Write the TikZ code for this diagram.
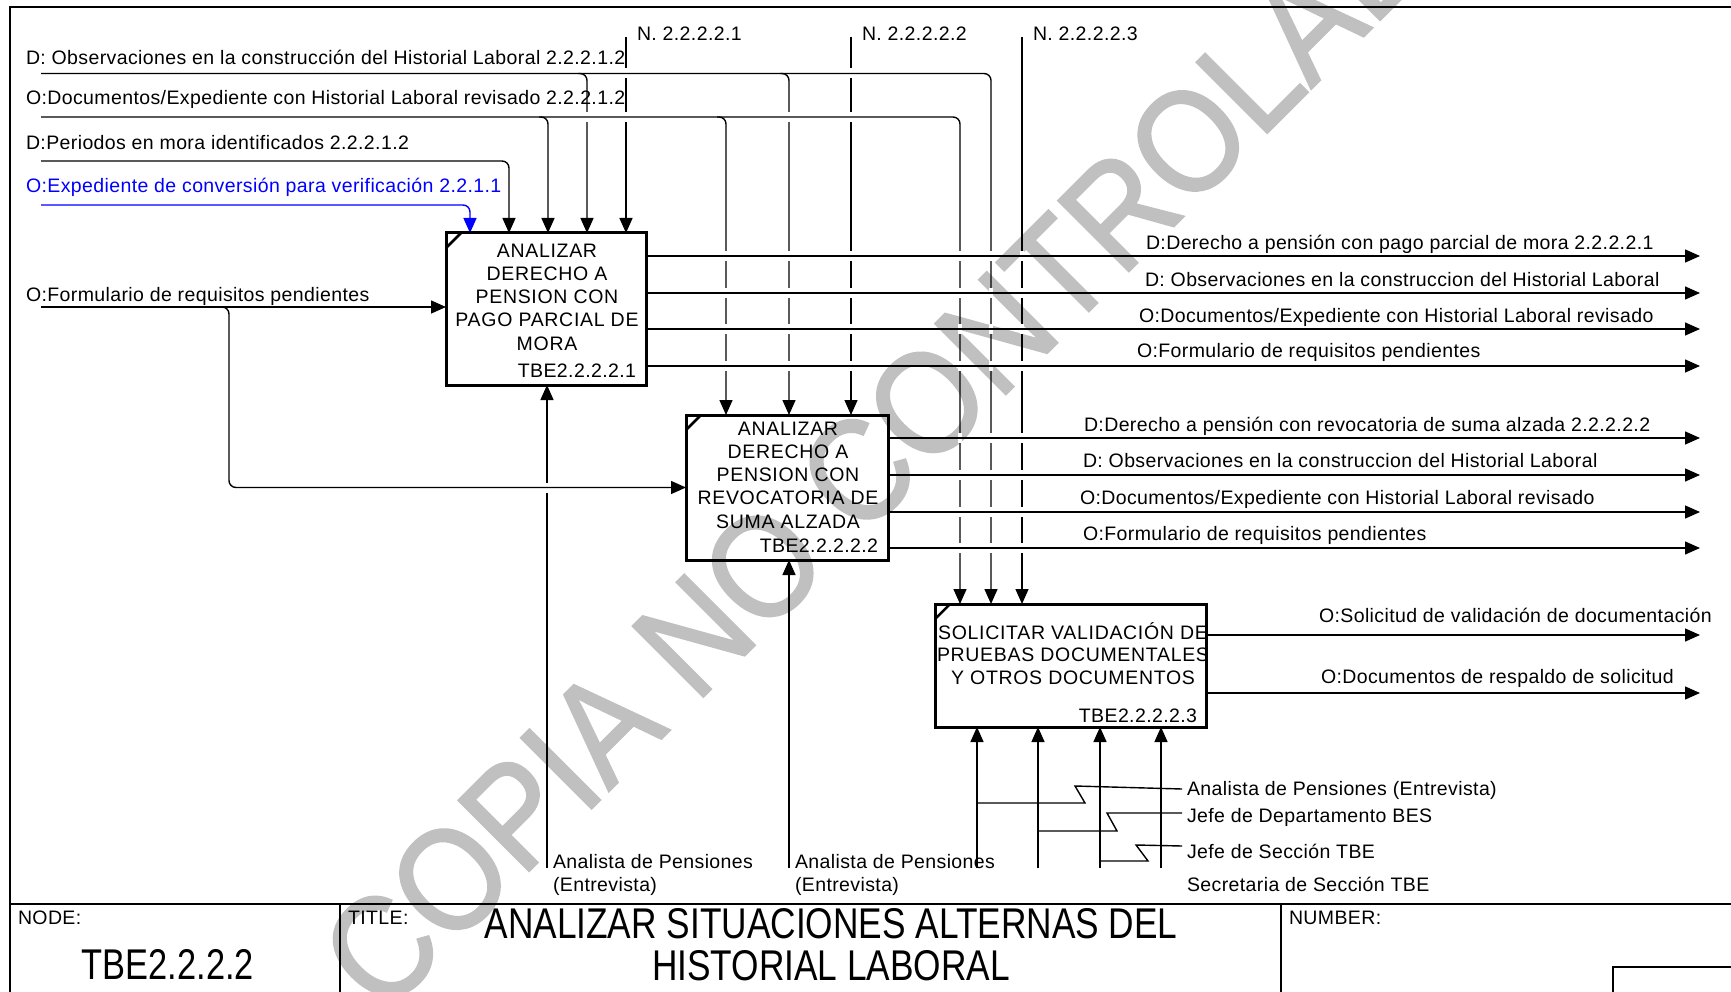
\documentclass[tikz,border=0pt]{standalone}
\usepackage{fontspec}
\usepackage{graphicx}
\setmainfont[LetterSpace=2]{Liberation Sans}
\newfontfamily\plainfont{Liberation Sans}
\newfontfamily\wmfont[FakeBold=1.5]{Liberation Sans}
\usetikzlibrary{arrows.meta}
\definecolor{wmgray}{RGB}{192,192,192}
\begin{document}
\begin{tikzpicture}[x=1pt,y=-1pt,
  every node/.style={inner sep=0pt, outer sep=0pt, font=\fontsize{19.5}{23.3}\selectfont},
  ln/.style={line width=1.4pt},
  arr/.style={ln, -{Triangle[length=15pt,width=13pt]}},
  gap/.style={draw=white, line width=3.6pt},
  rc/.style={rounded corners=7pt},
  frame/.style={line width=2pt},
  boxline/.style={line width=3pt},
  tick/.style={line width=2.5pt},
  lbl/.style={anchor=base west},
  boxtext/.style={align=center, anchor=north, font=\fontsize{19.5}{23.3}\selectfont\addfontfeatures{LetterSpace=3.5}},
  bigtxt/.style={anchor=base, font=\plainfont\fontsize{43}{43}\selectfont},
  wmark/.style={anchor=base west, rotate=45, font=\wmfont\fontsize{145}{145}\selectfont, text=wmgray}
]
\fill[white] (0,0) rectangle (1731,992);
\useasboundingbox (0,0) rectangle (1731,992);
\clip (0,0) rectangle (1731,992);

% ---------- watermark (behind everything) ----------
\node[wmark] (wm) at (383,1017) {\scalebox{0.9}[1]{COPIA NO CONTROLADA}};

% ---------- frame and title block ----------
\draw[frame] (10,1000) -- (10,7) -- (1745,7);
\draw[frame] (10,904) -- (1745,904);
\draw[frame] (340,904) -- (340,1000);
\draw[frame] (1281,904) -- (1281,1000);
\draw[line width=1.5pt] (1745,967) -- (1613,967) -- (1613,1000);

% ---------- boxes (geometry only, drawn later) ----------
\node[minimum width=200pt, minimum height=152pt, anchor=north west] (b1) at (446,233) {};
\node[minimum width=202pt, minimum height=145pt, anchor=north west] (b2) at (686,415) {};
\node[minimum width=271pt, minimum height=123pt, anchor=north west] (b3) at (935,604) {};

% ---------- free ends ----------
\coordinate (nA) at (626,37);
\coordinate (nB) at (851,37);
\coordinate (nC) at (1022,37);
\coordinate (iObs) at (41,73.5);
\coordinate (iDoc) at (41,117);
\coordinate (iPer) at (41,161);
\coordinate (iExp) at (41,205);
\coordinate (iFor) at (41,307);
\coordinate (m1) at (547,868);
\coordinate (m2) at (789,868);
\coordinate (m3a) at (977,868);
\coordinate (m3b) at (1038,868);
\coordinate (m3c) at (1100,868);
\coordinate (m3d) at (1161,868);
\coordinate (o1a) at (1700,256);
\coordinate (o1b) at (1700,293);
\coordinate (o1c) at (1700,329);
\coordinate (o1d) at (1700,366);
\coordinate (o2a) at (1700,438);
\coordinate (o2b) at (1700,475);
\coordinate (o2c) at (1700,512);
\coordinate (o2d) at (1700,548);
\coordinate (o3a) at (1700,635);
\coordinate (o3b) at (1700,693);

% ---------- controls from the top (N.) ----------
\draw[arr] (nA) -- (nA |- b1.north);
\draw[arr] (nB) -- (nB |- b2.north);
\draw[arr] (nC) -- (nC |- b3.north);

% ---------- mechanisms ----------
\draw[arr] (m1) -- (m1 |- b1.south);
\draw[arr] (m2) -- (m2 |- b2.south);
\draw[arr] (m3a) -- (m3a |- b3.south);
\draw[arr] (m3b) -- (m3b |- b3.south);
\draw[arr] (m3c) -- (m3c |- b3.south);
\draw[arr] (m3d) -- (m3d |- b3.south);

% line jumps (gaps in the vertical lines)
\foreach \x/\y in {626/73.5, 851/73.5, 626/117, 851/117, 547/488}
  \draw[gap] (\x,\y-5) -- (\x,\y+5);

% ---------- D: Observaciones ----------
\draw[arr, rc] (iObs) -| (991,0 |- b3.north);
\draw[arr, rc] (578,73.5) -| (587,0 |- b1.north);
\draw[arr, rc] (780,73.5) -| (789,0 |- b2.north);
\foreach \x in {587, 789}
  \draw[gap] (\x,112) -- (\x,122);

% ---------- O:Documentos ----------
\draw[arr, rc] (iDoc) -| (960,0 |- b3.north);
\draw[arr, rc] (539,117) -| (548,0 |- b1.north);
\draw[arr, rc] (717,117) -| (726,0 |- b2.north);

% ---------- D:Periodos / O:Expediente ----------
\draw[arr, rc] (iPer) -| (509,0 |- b1.north);
\draw[arr, blue, rc] (iExp) -| (470,0 |- b1.north);

% ---------- O:Formulario ----------
\draw[arr, rc] (220,307) -- (229,307) |- (b2.west);
\draw[arr] (iFor) -- (iFor -| b1.west);

% line jumps under the outputs
\foreach \x in {726, 789, 851, 960, 991, 1022}
  \foreach \y in {256, 293, 329, 366}
    \draw[gap] (\x,\y-5) -- (\x,\y+5);
\foreach \x in {960, 991, 1022}
  \foreach \y in {438, 475, 512, 548}
    \draw[gap] (\x,\y-5) -- (\x,\y+5);

% ---------- outputs ----------
\draw[arr] (o1a -| b1.east) -- (o1a);
\draw[arr] (o1b -| b1.east) -- (o1b);
\draw[arr] (o1c -| b1.east) -- (o1c);
\draw[arr] (o1d -| b1.east) -- (o1d);
\draw[arr] (o2a -| b2.east) -- (o2a);
\draw[arr] (o2b -| b2.east) -- (o2b);
\draw[arr] (o2c -| b2.east) -- (o2c);
\draw[arr] (o2d -| b2.east) -- (o2d);
\draw[arr] (o3a -| b3.east) -- (o3a);
\draw[arr] (o3b -| b3.east) -- (o3b);

% ---------- box borders ----------
\draw[boxline] (b1.north west) rectangle (b1.south east);
\draw[boxline] (b2.north west) rectangle (b2.south east);
\draw[boxline] (b3.north west) rectangle (b3.south east);
\draw[tick] ([yshift=-15pt]b1.north west) -- ([xshift=15pt]b1.north west);
\draw[tick] ([yshift=-15pt]b2.north west) -- ([xshift=15pt]b2.north west);
\draw[tick] ([yshift=-15pt]b3.north west) -- ([xshift=15pt]b3.north west);

% ---------- box texts ----------
\node[boxtext] (b1t) at (547,237) {\rule{0pt}{20pt}ANALIZAR\\DERECHO A\\PENSION CON\\PAGO PARCIAL DE\\MORA};
\node[anchor=base east] (b1id) at (636,377) {TBE2.2.2.2.1};
\node[boxtext] (b2t) at (788,415) {\rule{0pt}{20pt}ANALIZAR\\DERECHO A\\PENSION CON\\REVOCATORIA DE\\SUMA ALZADA};
\node[anchor=base east] (b2id) at (878,552) {TBE2.2.2.2.2};
\node[boxtext, font=\fontsize{19.5}{22.5}\selectfont\addfontfeatures{LetterSpace=3.5}] (b3t) at (1073,619) {\rule{0pt}{20pt}SOLICITAR VALIDACIÓN DE\\PRUEBAS DOCUMENTALES\\Y OTROS DOCUMENTOS};
\node[anchor=base east] (b3id) at (1197,722) {TBE2.2.2.2.3};

% ---------- input / control labels ----------
\node[lbl] (lN1) at (637,41) {N. 2.2.2.2.1};
\node[lbl] (lN2) at (862,41) {N. 2.2.2.2.2};
\node[lbl] (lN3) at (1033,41) {N. 2.2.2.2.3};
\node[lbl] (lObs) at (26,65) {D: Observaciones en la construcción del Historial Laboral 2.2.2.1.2};
\node[lbl] (lDoc) at (26,105) {O:Documentos/Expediente con Historial Laboral revisado 2.2.2.1.2};
\node[lbl] (lPer) at (26,150) {D:Periodos en mora identificados 2.2.2.1.2};
\node[lbl, text=blue] (lExp) at (26,193) {O:Expediente de conversión para verificación 2.2.1.1};
\node[lbl] (lFor) at (26,301) {O:Formulario de requisitos pendientes};

% ---------- output labels ----------
\node[lbl] (lo1a) at (1146,250) {D:Derecho a pensión con pago parcial de mora 2.2.2.2.1};
\node[lbl] (lo1b) at (1145,287) {D: Observaciones en la construccion del Historial Laboral};
\node[lbl] (lo1c) at (1139,322) {O:Documentos/Expediente con Historial Laboral revisado};
\node[lbl] (lo1d) at (1137,357) {O:Formulario de requisitos pendientes};
\node[lbl] (lo2a) at (1084,431) {D:Derecho a pensión con revocatoria de suma alzada 2.2.2.2.2};
\node[lbl] (lo2b) at (1083,467) {D: Observaciones en la construccion del Historial Laboral};
\node[lbl] (lo2c) at (1080,504) {O:Documentos/Expediente con Historial Laboral revisado};
\node[lbl] (lo2d) at (1083,540) {O:Formulario de requisitos pendientes};
\node[lbl] (lo3a) at (1319,622) {O:Solicitud de validación de documentación};
\node[lbl] (lo3b) at (1321,683) {O:Documentos de respaldo de solicitud};

% ---------- mechanism labels ----------
\node[align=left, anchor=north west] (lm1) at (553,848) {\rule{0pt}{20pt}Analista de Pensiones\\(Entrevista)};
\node[align=left, anchor=north west] (lm2) at (795,848) {\rule{0pt}{20pt}Analista de Pensiones\\(Entrevista)};
\node[lbl] (lA) at (1187,795) {Analista de Pensiones (Entrevista)};
\node[lbl] (lB) at (1187,822) {Jefe de Departamento BES};
\node[lbl] (lC) at (1187,858) {Jefe de Sección TBE};
\node[lbl] (lD) at (1187,891) {Secretaria de Sección TBE};

% ---------- squiggles ----------
\draw[ln] (m3a |- 0,803) -- (1085,803) -- (1075,786) -- ([shift={(-5pt,6pt)}]lA.base west);
\draw[ln] (m3b |- 0,831) -- (1117,831) -- (1107,813) -- ([shift={(-5pt,9pt)}]lB.base west);
\draw[ln] (m3c |- 0,861) -- (1148,861) -- (1136,845) -- ([shift={(-5pt,12pt)}]lC.base west);

% ---------- title block texts ----------
\node[lbl] (tNode) at (18,924) {NODE:};
\node[lbl] (tTitle) at (348,924) {TITLE:};
\node[lbl] (tNum) at (1289,924) {NUMBER:};
\node[bigtxt] (tId) at (168,979) {\scalebox{0.8}[1]{TBE2.2.2.2}};
\node[bigtxt] (tT1) at (831,938) {\scalebox{0.82}[1]{ANALIZAR SITUACIONES ALTERNAS DEL}};
\node[bigtxt] (tT2) at (831,980) {\scalebox{0.82}[1]{HISTORIAL LABORAL}};
\end{tikzpicture}
\end{document}
